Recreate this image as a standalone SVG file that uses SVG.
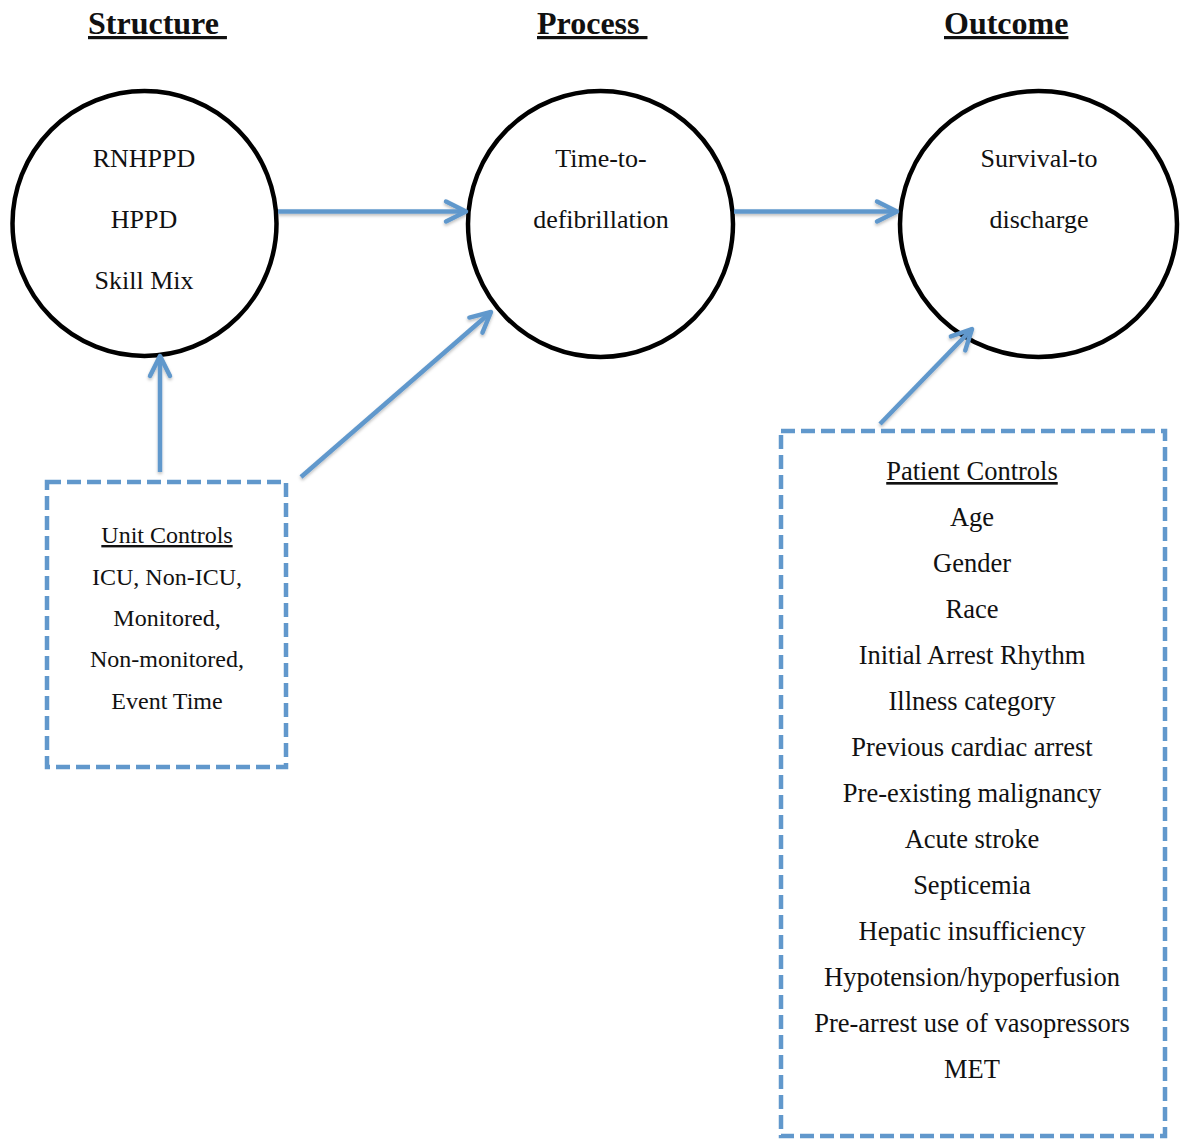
<svg xmlns="http://www.w3.org/2000/svg" width="1183" height="1140" viewBox="0 0 1183 1140">
<style>
.title{font-family:"Liberation Serif","Times New Roman",serif;font-weight:bold;font-size:32px;fill:#111;text-decoration:underline}
.ct{font-family:"Liberation Serif","Times New Roman",serif;font-size:26px;fill:#111;text-anchor:middle}
.ut{font-family:"Liberation Serif","Times New Roman",serif;font-size:24px;fill:#111;text-anchor:middle}
.pt{font-family:"Liberation Serif","Times New Roman",serif;font-size:26.5px;fill:#111;text-anchor:middle}
.u{text-decoration:underline}
.node{fill:#fff;stroke:#000;stroke-width:4.5}
.box{fill:none;stroke:#6198cc;stroke-width:4.5;stroke-dasharray:14 6}
.conn{fill:none;stroke:#6198cc;stroke-width:4.5;stroke-linecap:butt}
</style>
<defs>
<marker id="ah" markerUnits="userSpaceOnUse" viewBox="-26 -14 30 28" refX="0" refY="0" markerWidth="30" markerHeight="28" orient="auto">
<path d="M -20 -10 L 0 0 L -20 10" fill="none" stroke="#6198cc" stroke-width="4.5" stroke-linecap="round" stroke-linejoin="round"/>
</marker>
<filter id="sh" x="-10%" y="-10%" width="120%" height="130%">
<feDropShadow dx="0" dy="2" stdDeviation="1.5" flood-color="#000" flood-opacity="0.25"/>
</filter>
</defs>
<rect width="1183" height="1140" fill="#fff"/>
<g id="titles">
<text class="title" x="88" y="34" xml:space="preserve">Structure&#160;</text>
<text class="title" x="537" y="34" xml:space="preserve">Process&#160;</text>
<text class="title" x="944" y="34">Outcome</text>
</g>
<g id="node-structure">
<ellipse class="node" cx="144.5" cy="223.5" rx="132" ry="132.5"/>
<text class="ct" x="144" y="166.5">RNHPPD</text>
<text class="ct" x="144" y="227.5">HPPD</text>
<text class="ct" x="144" y="288.5">Skill Mix</text>
</g>
<g id="node-process">
<ellipse class="node" cx="600.5" cy="224" rx="132.5" ry="133"/>
<text class="ct" x="601" y="166.5">Time-to-</text>
<text class="ct" x="601" y="227.5">defibrillation</text>
</g>
<g id="node-outcome">
<ellipse class="node" cx="1038.5" cy="224" rx="138.5" ry="133"/>
<text class="ct" x="1039" y="166.5">Survival-to</text>
<text class="ct" x="1039" y="227.5">discharge</text>
</g>
<g id="node-unit">
<rect class="box" x="47" y="482" width="239" height="285"/>
<text class="ut u" x="167" y="543">Unit Controls</text>
<text class="ut" x="167" y="584.5">ICU, Non-ICU,</text>
<text class="ut" x="167" y="625.5">Monitored,</text>
<text class="ut" x="167" y="667">Non-monitored,</text>
<text class="ut" x="167" y="708.5">Event Time</text>
</g>
<g id="node-patient">
<rect class="box" x="781" y="431" width="384" height="705"/>
<text class="pt u" x="972" y="480">Patient Controls</text>
<text class="pt" x="972" y="526">Age</text>
<text class="pt" x="972" y="572">Gender</text>
<text class="pt" x="972" y="618">Race</text>
<text class="pt" x="972" y="664">Initial Arrest Rhythm</text>
<text class="pt" x="972" y="710">Illness category</text>
<text class="pt" x="972" y="756">Previous cardiac arrest</text>
<text class="pt" x="972" y="802">Pre-existing malignancy</text>
<text class="pt" x="972" y="848">Acute stroke</text>
<text class="pt" x="972" y="894">Septicemia</text>
<text class="pt" x="972" y="940">Hepatic insufficiency</text>
<text class="pt" x="972" y="986">Hypotension/hypoperfusion</text>
<text class="pt" x="972" y="1032">Pre-arrest use of vasopressors</text>
<text class="pt" x="972" y="1078">MET</text>
</g>
<g id="connectors" filter="url(#sh)">
<line class="conn" x1="278" y1="211.5" x2="466" y2="211.5" marker-end="url(#ah)"/>
<line class="conn" x1="734" y1="211.5" x2="897" y2="211.5" marker-end="url(#ah)"/>
<line class="conn" x1="301" y1="477" x2="491" y2="312" marker-end="url(#ah)"/>
<line class="conn" x1="160" y1="472" x2="160" y2="356" marker-end="url(#ah)"/>
<line class="conn" x1="880" y1="424" x2="972" y2="329" marker-end="url(#ah)"/>
</g>
</svg>
